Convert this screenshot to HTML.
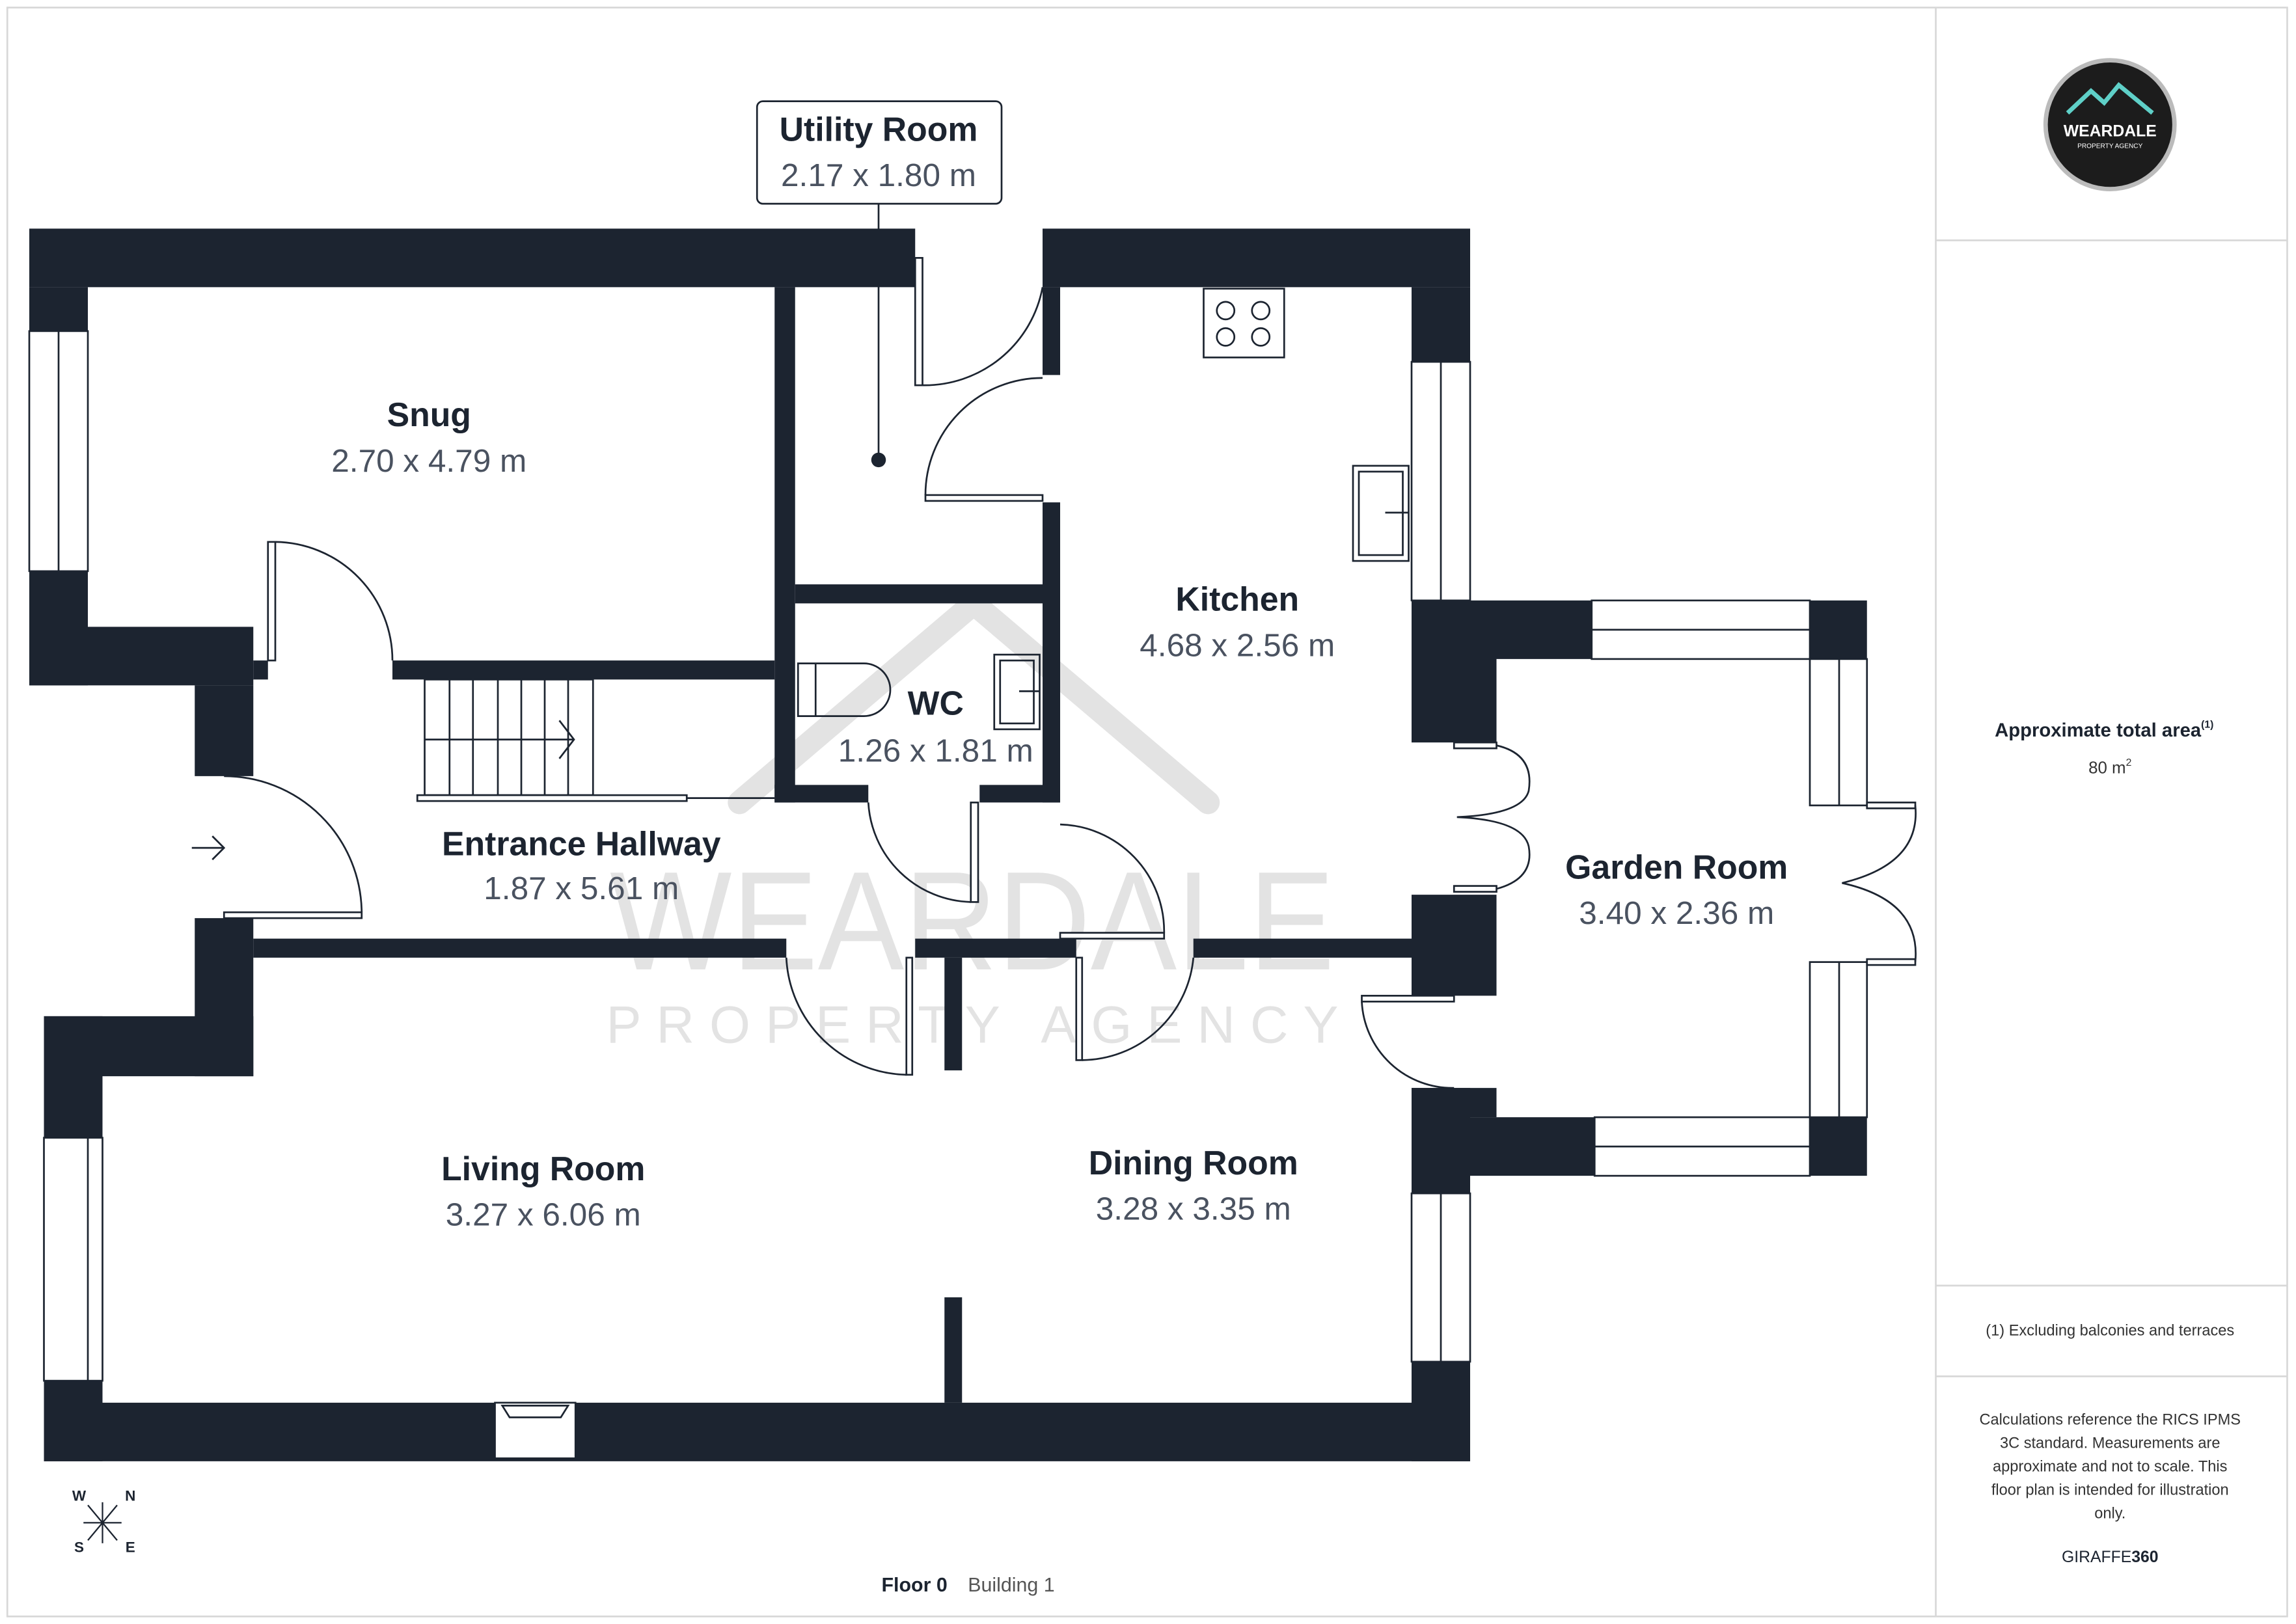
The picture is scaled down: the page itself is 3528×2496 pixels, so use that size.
<!DOCTYPE html>
<html><head><meta charset="utf-8"><style>
html,body{margin:0;padding:0;background:#fff}
svg{display:block}
text{font-family:"Liberation Sans",sans-serif}
.w{fill:#1c2430}
.b{font-weight:bold;fill:#1c2430;font-size:23px;text-anchor:middle}
.d{fill:#4a5260;font-size:22px;text-anchor:middle}
.ln{fill:none;stroke:#1c2430;stroke-width:1.2}
.win{fill:#fff;stroke:#1c2430;stroke-width:1.2}
</style></head><body>
<svg width="3528" height="2496" viewBox="0 0 1568 1109" xmlns="http://www.w3.org/2000/svg">
<rect x="5" y="5" width="1557" height="1099" fill="#fff" stroke="#d8d8d8" stroke-width="1.2"/>
<line x1="1322" y1="5" x2="1322" y2="1104" stroke="#d8d8d8" stroke-width="1.2"/>
<line x1="1322" y1="164" x2="1562" y2="164" stroke="#d8d8d8" stroke-width="1.2"/>
<line x1="1322" y1="878" x2="1562" y2="878" stroke="#d8d8d8" stroke-width="1.2"/>
<line x1="1322" y1="940" x2="1562" y2="940" stroke="#d8d8d8" stroke-width="1.2"/>

<!-- watermark -->
<path d="M505,548 L665,412 L825,548" fill="none" stroke="#e3e3e3" stroke-width="16" stroke-linecap="round" stroke-linejoin="round"/>
<text x="664" y="662" font-size="96" fill="#e3e3e3" text-anchor="middle" textLength="495" lengthAdjust="spacingAndGlyphs">WEARDALE</text>
<text x="664" y="712" font-size="36" fill="#e3e3e3" text-anchor="middle" textLength="500" lengthAdjust="spacing">PROPERTY AGENCY</text>

<!-- walls -->
<g class="w">
<rect x="20" y="156" width="605" height="40"/>
<rect x="712" y="156" width="292" height="40"/>
<rect x="20" y="196" width="40" height="30"/>
<rect x="20" y="390" width="40" height="78"/>
<rect x="20" y="428" width="153" height="40"/>
<rect x="133" y="468" width="40" height="62"/>
<rect x="964" y="196" width="40" height="51"/>
<rect x="964" y="410" width="58" height="97"/>
<rect x="529" y="196" width="14" height="352"/>
<rect x="712" y="196" width="12" height="60"/>
<rect x="712" y="343" width="12" height="205"/>
<rect x="543" y="399" width="169" height="13"/>
<rect x="268" y="451" width="261" height="13"/>
<rect x="173" y="451" width="10" height="13"/>
<rect x="529" y="536" width="64" height="12"/>
<rect x="669" y="536" width="55" height="12"/>
<rect x="173" y="641" width="364" height="13"/>
<rect x="625" y="641" width="110" height="13"/>
<rect x="815" y="641" width="149" height="13"/>
<rect x="133" y="627" width="40" height="108"/>
<rect x="30" y="694" width="143" height="41"/>
<rect x="30" y="694" width="40" height="83"/>
<rect x="30" y="943" width="40" height="55"/>
<rect x="30" y="958" width="974" height="40"/>
<rect x="645" y="654" width="12" height="77"/>
<rect x="645" y="886" width="12" height="72"/>
<rect x="964" y="743" width="40" height="72"/>
<rect x="964" y="930" width="40" height="68"/>
<rect x="964" y="611" width="58" height="69"/>
<rect x="964" y="743" width="58" height="20"/>
<rect x="1004" y="763" width="85" height="40"/>
<rect x="1022" y="410" width="65" height="40"/>
<rect x="1236" y="410" width="39" height="40"/>
<rect x="1236" y="763" width="39" height="40"/>
</g>
<!-- windows -->
<rect class="win" x="20" y="226" width="40" height="164"/><line class="ln" x1="40" y1="226" x2="40" y2="390"/>
<rect class="win" x="30" y="777" width="40" height="166"/><line class="ln" x1="60" y1="777" x2="60" y2="943"/>
<rect class="win" x="964" y="247" width="40" height="163"/><line class="ln" x1="984" y1="247" x2="984" y2="410"/>
<rect class="win" x="964" y="815" width="40" height="115"/><line class="ln" x1="984" y1="815" x2="984" y2="930"/>
<rect class="win" x="1087" y="410" width="149" height="40"/><line class="ln" x1="1087" y1="430" x2="1236" y2="430"/>
<rect class="win" x="1089" y="763" width="147" height="40"/><line class="ln" x1="1089" y1="783" x2="1236" y2="783"/>
<rect class="win" x="1236" y="450" width="39" height="100"/><line class="ln" x1="1256" y1="450" x2="1256" y2="550"/>
<rect class="win" x="1236" y="657" width="39" height="106"/><line class="ln" x1="1256" y1="657" x2="1256" y2="763"/>
<rect class="win" x="338" y="958" width="55" height="38"/>
<path class="ln" d="M343,960 L388,960 L383,968 L348,968 Z"/>

<!-- doors -->
<g class="ln">
<rect x="183" y="370" width="5" height="81" fill="#fff"/>
<path d="M188,370 A81,81 0 0 1 268,451"/>
<rect x="625" y="176" width="5" height="87" fill="#fff"/>
<path d="M630,263 A82,82 0 0 0 712,196"/>
<rect x="632" y="338" width="80" height="4" fill="#fff"/>
<path d="M632,338 A80,80 0 0 1 712,258"/>
<rect x="153" y="623" width="94" height="4" fill="#fff"/>
<path d="M247,623 A94,94 0 0 0 153,530"/>
<rect x="663" y="548" width="5" height="68" fill="#fff"/>
<path d="M593,548 A72,72 0 0 0 663,616"/>
<rect x="724" y="637" width="71" height="4" fill="#fff"/>
<path d="M795,637 A73,73 0 0 0 724,563"/>
<rect x="619" y="654" width="4" height="80" fill="#fff"/>
<path d="M537,654 A84,84 0 0 0 619,734"/>
<rect x="735" y="654" width="4" height="70" fill="#fff"/>
<path d="M815,654 A77,77 0 0 1 739,724"/>
<rect x="930" y="680" width="63" height="4" fill="#fff"/>
<path d="M930,684 A62,62 0 0 0 993,743"/>
<rect x="993" y="507" width="29" height="4" fill="#fff"/>
<rect x="993" y="605" width="29" height="4" fill="#fff"/>
<path d="M1022,509 Q1048,515 1044,540 Q1040,556 995,558 Q1040,560 1044,578 Q1048,600 1022,607"/>
<rect x="1275" y="548" width="33" height="4" fill="#fff"/>
<rect x="1275" y="655" width="33" height="4" fill="#fff"/>
<path d="M1308,550 Q1312,590 1258,603 Q1312,615 1308,657"/>
</g>

<!-- stairs -->
<g class="ln">
<rect x="290" y="464" width="115" height="79"/>
<line x1="307" y1="464" x2="307" y2="543"/><line x1="323" y1="464" x2="323" y2="543"/>
<line x1="340" y1="464" x2="340" y2="543"/><line x1="356" y1="464" x2="356" y2="543"/>
<line x1="372" y1="464" x2="372" y2="543"/><line x1="388" y1="464" x2="388" y2="543"/>
<line x1="290" y1="505" x2="392" y2="505"/>
<path d="M382,492 L392,505 L382,518"/>
<rect x="285" y="543" width="184" height="4" fill="#fff"/>
<line x1="469" y1="545" x2="529" y2="545"/>
</g>
<!-- fixtures -->
<g class="ln">
<rect x="822" y="197" width="55" height="47"/>
<circle cx="837" cy="212" r="6"/><circle cx="861" cy="212" r="6"/>
<circle cx="837" cy="230" r="6"/><circle cx="861" cy="230" r="6"/>
<rect x="924" y="318" width="38" height="65"/><rect x="928" y="322" width="30" height="57"/>
<line x1="946" y1="350" x2="962" y2="350"/>
<path d="M545,453 L590,453 A18,18 0 0 1 590,489 L545,489 Z"/>
<line x1="557" y1="453" x2="557" y2="489"/>
<rect x="679" y="447" width="31" height="51"/><rect x="683" y="451" width="23" height="43"/>
<line x1="696" y1="472" x2="710" y2="472"/>
</g>
<!-- entrance arrow -->
<path d="M131,579 L152,579 M145,571 L153,579 L145,587" fill="none" stroke="#1c2430" stroke-width="1.2"/>

<!-- utility label -->
<rect x="517" y="69" width="167" height="70" rx="4" fill="#fff" stroke="#1c2430" stroke-width="1.2"/>
<text class="b" x="600" y="96">Utility Room</text>
<text class="d" x="600" y="127">2.17 x 1.80 m</text>
<line x1="600" y1="139" x2="600" y2="314" stroke="#1c2430" stroke-width="1.2"/>
<circle cx="600" cy="314" r="5" fill="#1c2430"/>

<text class="b" x="293" y="291">Snug</text><text class="d" x="293" y="322">2.70 x 4.79 m</text>
<text class="b" x="845" y="417">Kitchen</text><text class="d" x="845" y="448">4.68 x 2.56 m</text>
<text class="b" x="639" y="488">WC</text><text class="d" x="639" y="520">1.26 x 1.81 m</text>
<text class="b" x="397" y="584">Entrance Hallway</text><text class="d" x="397" y="614">1.87 x 5.61 m</text>
<text class="b" x="1145" y="600">Garden Room</text><text class="d" x="1145" y="631">3.40 x 2.36 m</text>
<text class="b" x="371" y="806">Living Room</text><text class="d" x="371" y="837">3.27 x 6.06 m</text>
<text class="b" x="815" y="802">Dining Room</text><text class="d" x="815" y="833">3.28 x 3.35 m</text>

<!-- compass -->
<g stroke="#1c2430" stroke-width="1" fill="none">
<line x1="60" y1="1028" x2="80" y2="1052"/><line x1="80" y1="1028" x2="60" y2="1052"/>
<line x1="70" y1="1026" x2="70" y2="1054"/><line x1="57" y1="1040" x2="83" y2="1040"/>
</g>
<text x="54" y="1025" font-size="10" font-weight="bold" fill="#1c2430" text-anchor="middle">W</text>
<text x="89" y="1025" font-size="10" font-weight="bold" fill="#1c2430" text-anchor="middle">N</text>
<text x="54" y="1060" font-size="10" font-weight="bold" fill="#1c2430" text-anchor="middle">S</text>
<text x="89" y="1060" font-size="10" font-weight="bold" fill="#1c2430" text-anchor="middle">E</text>

<text x="602" y="1087" font-size="13.5" font-weight="bold" fill="#1c2430">Floor 0</text>
<text x="661" y="1087" font-size="13.5" fill="#555">Building 1</text>

<!-- right panel -->
<circle cx="1441" cy="85" r="44" fill="#1c1c1c" stroke="#bbb" stroke-width="3"/>
<path d="M1412,77 L1428,62 L1437,70 L1447,58 L1470,77" fill="none" stroke="#5fd0c8" stroke-width="3"/>
<text x="1441" y="93" font-size="11" font-weight="bold" fill="#fff" text-anchor="middle">WEARDALE</text>
<text x="1441" y="101" font-size="4.5" fill="#fff" text-anchor="middle">PROPERTY AGENCY</text>
<text x="1437" y="503" font-size="13" font-weight="bold" fill="#1c2430" text-anchor="middle">Approximate total area<tspan font-size="7" dy="-6">(1)</tspan></text>
<text x="1441" y="528" font-size="11.5" fill="#333" text-anchor="middle">80 m<tspan font-size="7" dy="-5">2</tspan></text>
<text x="1441" y="912" font-size="10.5" fill="#333" text-anchor="middle">(1) Excluding balconies and terraces</text>
<g font-size="10.5" fill="#333" text-anchor="middle">
<text x="1441" y="973">Calculations reference the RICS IPMS</text>
<text x="1441" y="989">3C standard. Measurements are</text>
<text x="1441" y="1005">approximate and not to scale. This</text>
<text x="1441" y="1021">floor plan is intended for illustration</text>
<text x="1441" y="1037">only.</text>
</g>
<text x="1441" y="1067" font-size="11" fill="#1c2430" text-anchor="middle">GIRAFFE<tspan font-weight="bold">360</tspan></text>
</svg>
</body></html>
